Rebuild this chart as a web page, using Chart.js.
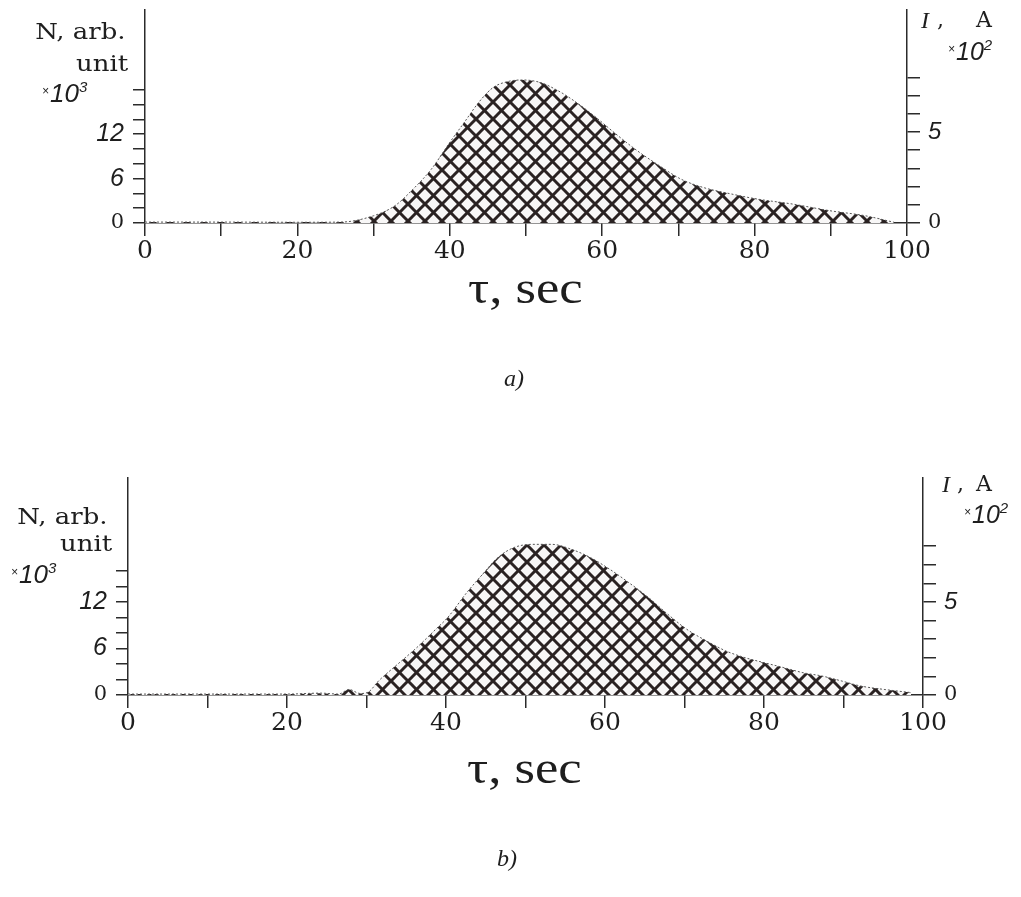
<!DOCTYPE html>
<html>
<head>
<meta charset="utf-8">
<script src="https://cdn.jsdelivr.net/npm/chart.js@4"></script>
<style>
  html, body { margin:0; padding:0; background:#fff; }
  body { width:1021px; height:897px; position:relative; overflow:hidden; }
  .box { position:absolute; left:0; width:1021px; }
  .t { position:absolute; color:#1e1e1e; white-space:nowrap; line-height:1; }
  .serif { font-family:"DejaVu Serif", serif; }
  .times { font-family:"Liberation Serif", serif; }
  .isans { font-family:"Liberation Sans", sans-serif; font-style:italic; }
  .small { font-size:12px; vertical-align:7px; font-style:italic; margin-right:1px; }
  sup { font-size:15px; vertical-align:10px; line-height:0; }
  .wide { transform:scaleX(1.18); transform-origin:right top; }
  .wideL { transform:scaleX(1.12); transform-origin:left top; }
</style>
</head>
<body>
<div class="box" style="top:0;height:270px"><canvas id="ca"></canvas></div>
<div class="box" style="top:460px;height:290px"><canvas id="cb"></canvas></div>

<!-- chart a texts -->
<div class="t serif wide" style="right:895px;top:21px;font-size:22px">N, arb.</div>
<div class="t serif wide" style="right:893px;top:53px;font-size:22px">unit</div>
<div class="t isans" style="left:42px;top:80px;font-size:26px"><span class="small">×</span>10<sup>3</sup></div>
<div class="t times" style="left:921px;top:8px;font-size:24px;font-style:italic">I</div>
<div class="t serif" style="left:937px;top:9px;font-size:22px">,</div>
<div class="t serif" style="left:976px;top:9px;font-size:22px">A</div>
<div class="t isans" style="left:948px;top:39px;font-size:25px"><span class="small">×</span>10<sup>2</sup></div>
<div class="t times wideL" style="left:468px;top:264px;font-size:47px">τ, sec</div>
<div class="t times" style="left:504px;top:366px;font-size:24px;font-style:italic">a)</div>

<!-- chart b texts -->
<div class="t serif wide" style="right:913px;top:506px;font-size:22px">N, arb.</div>
<div class="t serif wide" style="right:909px;top:533px;font-size:22px">unit</div>
<div class="t isans" style="left:11px;top:561px;font-size:26px"><span class="small">×</span>10<sup>3</sup></div>
<div class="t times" style="left:942px;top:472px;font-size:24px;font-style:italic">I</div>
<div class="t serif" style="left:957px;top:473px;font-size:22px">,</div>
<div class="t serif" style="left:976px;top:473px;font-size:22px">A</div>
<div class="t isans" style="left:964px;top:502px;font-size:25px"><span class="small">×</span>10<sup>2</sup></div>
<div class="t times wideL" style="left:467px;top:744px;font-size:47px">τ, sec</div>
<div class="t times" style="left:497px;top:846px;font-size:24px;font-style:italic">b)</div>

<script>
// ---- data ----
const tA = [0, 10, 20, 25.7, 30, 32.8, 35.2, 37.6, 40, 41.9, 43.8, 45.7, 47.6, 49.4, 51.8, 54.2, 56.6, 58.9, 61.8, 64.6, 67.5, 70.3, 73.2, 77, 80.3, 85, 89.8, 94.5, 98.3];
const iA = [0.05, 0.05, 0.04, 0.05, 0.40, 0.95, 1.87, 2.97, 4.43, 5.53, 6.63, 7.45, 7.77, 7.86, 7.73, 7.27, 6.63, 5.90, 4.89, 3.97, 3.15, 2.42, 1.96, 1.59, 1.32, 1.04, 0.68, 0.40, 0.04];

const tB = [0, 10, 20, 24.2, 26.5, 27.8, 29.2, 30.2, 31.5, 33.9, 36.3, 38.7, 40.2, 42.6, 44.6, 46.5, 48.5, 50.9, 53.3, 55.8, 58.2, 60.6, 63, 65.5, 67.9, 70.3, 72.8, 75.2, 77.6, 80, 82.5, 84.9, 87.3, 89.8, 92.2, 95.1, 98.5];
const iB = [0.05, 0.05, 0.05, 0.10, 0.05, 0.30, 0.08, 0.15, 0.75, 1.65, 2.54, 3.53, 4.16, 5.50, 6.49, 7.38, 7.92, 8.10, 8.10, 7.83, 7.38, 6.76, 6.04, 5.23, 4.34, 3.53, 2.90, 2.37, 2.01, 1.74, 1.47, 1.20, 1.02, 0.75, 0.48, 0.30, 0.13];

const xTicks = [0, 10, 20, 30, 40, 50, 60, 70, 80, 90, 100];
const xLabels = [0, 20, 40, 60, 80, 100];
const nTicks = [0, 2, 4, 6, 8, 10, 12, 14, 16, 18];
const nTicksB = [0, 2, 4, 6, 8, 10, 12, 14, 16];
const nLabels = [0, 6, 12];
const iTicks = [0, 1, 2, 3, 4, 5, 6, 7, 8];
const iLabels = [0, 5];

// ---- cross-hatch pattern ----
function hatch() {
  const s = 17;
  const c = document.createElement('canvas');
  c.width = s; c.height = s;
  const g = c.getContext('2d');
  g.fillStyle = '#f8f7f7';
  g.fillRect(0, 0, s, s);
  g.strokeStyle = '#2a2222';
  g.lineWidth = 3.0;
  for (const k of [-1, 0, 1]) {
    g.beginPath(); g.moveTo(k * s, 0); g.lineTo(k * s + s, s); g.stroke();
    g.beginPath(); g.moveTo(k * s + s, 0); g.lineTo(k * s, s); g.stroke();
  }
  return g.createPattern(c, 'repeat');
}

const AX = '#2b2b2b';
function fontFor(v, sans, serif) { return v === 0 ? serif : sans; }
function noPad(s) { s.paddingTop = 0; s.paddingBottom = 0; s.paddingLeft = 0; s.paddingRight = 0; }

function makeChart(id, ts, vals, cfg) {
  const pts = ts.map((t, i) => ({ x: t, y: vals[i] }));
  const ctx = document.getElementById(id).getContext('2d');
  return new Chart(ctx, {
    type: 'line',
    data: { datasets: [{
      data: pts, yAxisID: 'yR', xAxisID: 'x',
      fill: 'origin', backgroundColor: hatch(),
      borderColor: '#555', borderWidth: 1, borderDash: [2, 2],
      pointRadius: 0, cubicInterpolationMode: 'monotone'
    }] },
    options: {
      responsive: true, maintainAspectRatio: false, animation: false,
      layout: { padding: { top: cfg.top, left: 0, right: 0, bottom: 0 } },
      plugins: { legend: { display: false }, tooltip: { enabled: false } },
      scales: {
        x: {
          type: 'linear', min: 0, max: 100,
          afterFit: s => { s.height = cfg.xh; noPad(s); },
          afterBuildTicks: s => { s.ticks = xTicks.map(v => ({ value: v })); },
          grid: { drawOnChartArea: false, drawTicks: true, tickLength: 13, color: AX, lineWidth: 1.5 },
          border: { display: true, color: AX, width: 1.5 },
          ticks: { autoSkip: false, maxRotation: 0, padding: 0, color: '#1e1e1e',
            font: { family: 'DejaVu Serif', size: 25 },
            callback: v => xLabels.includes(v) ? String(v) : '' }
        },
        yL: {
          type: 'linear', position: 'left', min: 0, max: cfg.lmax,
          afterFit: s => { s.width = cfg.lw; noPad(s); },
          afterBuildTicks: s => { s.ticks = cfg.nt.map(v => ({ value: v })); },
          grid: { drawOnChartArea: false, drawTicks: true, tickLength: 12, color: AX, lineWidth: 1.5 },
          border: { display: true, color: AX, width: 1.5 },
          ticks: { autoSkip: false, padding: 9, color: '#1e1e1e',
            font: c => fontFor(c.tick && c.tick.value, { family: 'Liberation Sans', size: 25, style: 'italic' }, { family: 'DejaVu Serif', size: 21 }),
            callback: v => nLabels.includes(v) ? String(v) : '' }
        },
        yR: {
          type: 'linear', position: 'right', min: 0, max: cfg.rmax,
          afterFit: s => { s.width = cfg.rw; noPad(s); },
          afterBuildTicks: s => { s.ticks = iTicks.map(v => ({ value: v })); },
          grid: { drawOnChartArea: false, drawTicks: true, tickLength: 13, color: AX, lineWidth: 1.5 },
          border: { display: true, color: AX, width: 1.5 },
          ticks: { autoSkip: false, padding: 8, color: '#1e1e1e',
            font: c => fontFor(c.tick && c.tick.value, { family: 'Liberation Sans', size: 24, style: 'italic' }, { family: 'DejaVu Serif', size: 21 }),
            callback: v => iLabels.includes(v) ? String(v) : '' }
        }
      }
    }
  });
}

// chart a: area x 145..907, y 10..223
makeChart('ca', tA, iA, { top: 10, xh: 47, lw: 145, rw: 1021 - 907, lmax: 213 / 7.4, rmax: 213 / 18.2, nt: nTicks });
// chart b: area x 128..923, y 478..695 (container top 460)
makeChart('cb', tB, iB, { top: 18, xh: 55, lw: 128, rw: 1021 - 923, lmax: 217 / 7.75, rmax: 217 / 18.6, nt: nTicksB });
</script>
</body>
</html>
